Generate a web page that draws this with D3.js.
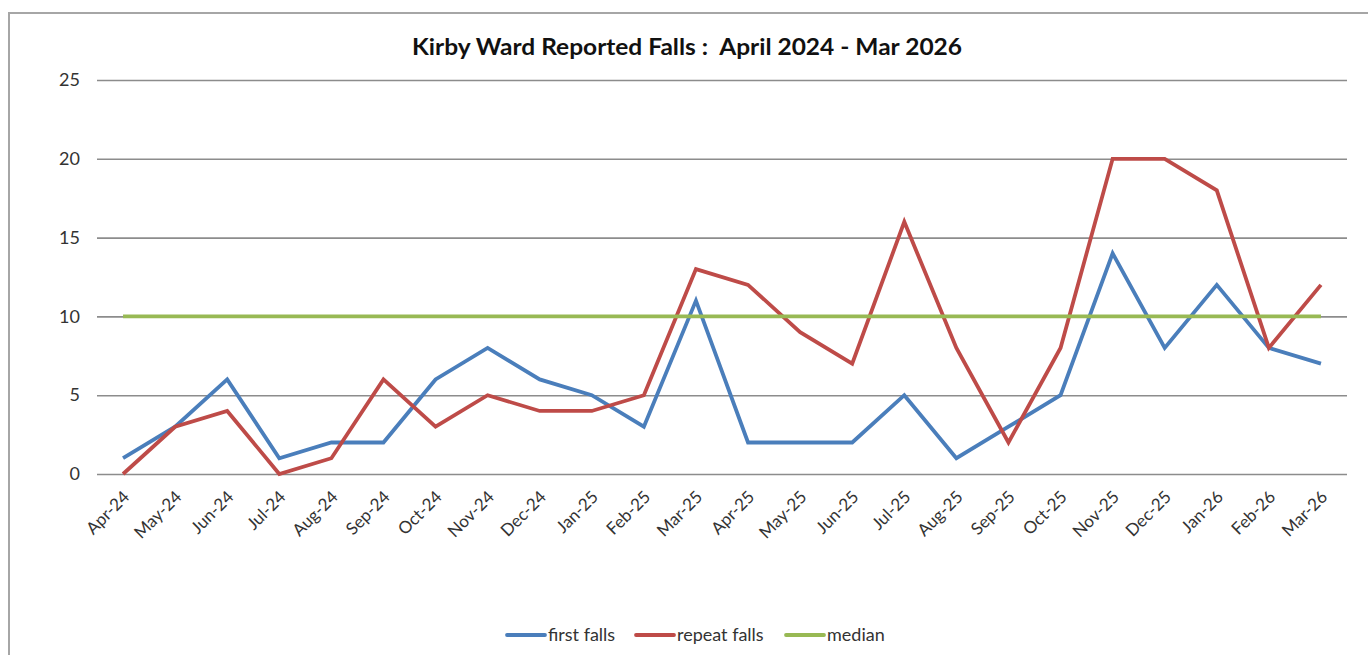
<!DOCTYPE html>
<html>
<head>
<meta charset="utf-8">
<script src="https://cdn.jsdelivr.net/npm/d3@7"></script>
<style>
  html, body { margin: 0; padding: 0; background: #fff; }
  svg { display: block; }
  text { font-family: Lato, "Open Sans", sans-serif; fill: #222; }
</style>
</head>
<body>
<svg id="chart" width="1368" height="655"></svg>
<script>
// Monthly reported falls, Kirby Ward
const months = ["Apr-24","May-24","Jun-24","Jul-24","Aug-24","Sep-24","Oct-24","Nov-24","Dec-24","Jan-25","Feb-25","Mar-25",
                "Apr-25","May-25","Jun-25","Jul-25","Aug-25","Sep-25","Oct-25","Nov-25","Dec-25","Jan-26","Feb-26","Mar-26"];
const firstFalls  = [1, 3, 6, 1, 2, 2, 6, 8, 6, 5, 3, 11, 2, 2, 2, 5, 1, 3, 5, 14, 8, 12, 8, 7];
const repeatFalls = [0, 3, 4, 0, 1, 6, 3, 5, 4, 4, 5, 13, 12, 9, 7, 16, 8, 2, 8, 20, 20, 18, 8, 12];
const median      = [10,10,10,10,10,10,10,10,10,10,10,10,10,10,10,10,10,10,10,10,10,10,10,10];
const yTicks = [0, 5, 10, 15, 20, 25];

const seriesList = [
  { name: "first falls",  values: firstFalls,  color: "#4a7ebb" },
  { name: "repeat falls", values: repeatFalls, color: "#be4b48" },
  { name: "median",       values: median,      color: "#98b954" }
];

const svg = d3.select("#chart");

// outer frame (runs off the right and bottom edges)
svg.append("rect")
  .attr("x", 9).attr("y", 13)
  .attr("width", 1400).attr("height", 700)
  .attr("fill", "none").attr("stroke", "#a6a6a6").attr("stroke-width", 2);

const plot = { left: 97, right: 1347, top: 80, bottom: 474 };

const x = d3.scalePoint().domain(months).range([plot.left, plot.right]).padding(0.5);
const y = d3.scaleLinear().domain([0, 25]).range([plot.bottom, plot.top]);

// title
svg.append("text")
  .attr("x", 687).attr("y", 55)
  .attr("text-anchor", "middle")
  .attr("xml:space", "preserve")
  .attr("textLength", 550)
  .attr("lengthAdjust", "spacingAndGlyphs")
  .style("white-space", "pre")
  .style("font-size", "23px").style("font-weight", "bold")
  .style("fill", "#111")
  .text("Kirby Ward Reported Falls :  April 2024 - Mar 2026");

// horizontal gridlines + y labels
const yAxis = svg.append("g")
  .attr("transform", `translate(${plot.left},0)`)
  .call(d3.axisLeft(y).tickValues(yTicks).tickSize(-(plot.right - plot.left)).tickPadding(17));
yAxis.select(".domain").remove();
yAxis.selectAll(".tick line").attr("stroke", "#8c8c8c").attr("stroke-width", 1.6);
yAxis.selectAll(".tick text")
  .style("font-size", "18px").style("fill", "#333")
  .style("font-family", "Lato, 'Open Sans', sans-serif");

// x labels, rotated
const xAxis = svg.append("g")
  .attr("transform", `translate(0,${plot.bottom})`)
  .call(d3.axisBottom(x).tickSize(0).tickPadding(0));
xAxis.select(".domain").remove();
xAxis.selectAll(".tick text")
  .attr("text-anchor", "end")
  .attr("dy", "0")
  .attr("transform", "translate(7,24) rotate(-45)")
  .style("font-size", "17px").style("fill", "#333")
  .style("font-family", "Lato, 'Open Sans', sans-serif");

// series lines
const line = d3.line()
  .x((d, i) => x(months[i]))
  .y(d => y(d));

seriesList.forEach(s => {
  svg.append("path")
    .datum(s.values)
    .attr("d", line)
    .attr("fill", "none")
    .attr("stroke", s.color)
    .attr("stroke-width", 3.8)
    .attr("stroke-linejoin", "miter");
});

// legend
const legendY = 635;
const legendItems = [
  { s: seriesList[0], x: 507 },
  { s: seriesList[1], x: 636 },
  { s: seriesList[2], x: 786 }
];
legendItems.forEach(it => {
  svg.append("line")
    .attr("x1", it.x).attr("x2", it.x + 38)
    .attr("y1", legendY).attr("y2", legendY)
    .attr("stroke", it.s.color).attr("stroke-width", 3.8)
    .attr("stroke-linecap", "round");
  svg.append("text")
    .attr("x", it.x + 41).attr("y", legendY + 6)
    .style("font-size", "18px").style("fill", "#333")
    .text(it.s.name);
});
</script>
</body>
</html>
